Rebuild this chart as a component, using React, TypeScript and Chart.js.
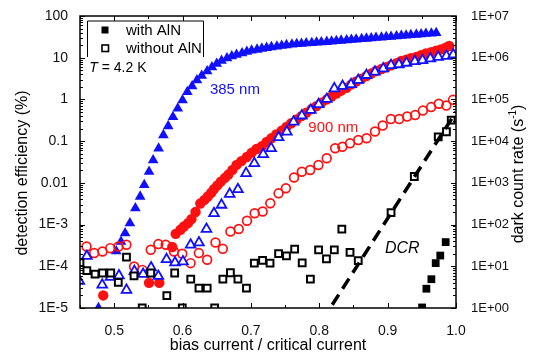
import React, { useEffect, useRef } from 'react';
import { Chart, registerables } from 'chart.js';

Chart.register(...registerables);

const FONT = '"Liberation Sans", Arial, Helvetica, sans-serif';

// ---- axis ticks / labels ----
const xTickValues = [0.5, 0.6, 0.7, 0.8, 0.9, 1.0];
const xTickLabels = ['0.5', '0.6', '0.7', '0.8', '0.9', '1.0'];
const xMinorTicks = [0.45, 0.55, 0.65, 0.75, 0.85, 0.95];
const leftTickValues = [1e-5, 1e-4, 1e-3, 1e-2, 1e-1, 1, 10, 100];
const leftTickLabels = ['1E-5', '1E-4', '1E-3', '0.01', '0.1', '1', '10', '100'];
const rightTickValues = [1, 10, 100, 1e3, 1e4, 1e5, 1e6, 1e7];
const rightTickLabels = ['1E+00', '1E+01', '1E+02', '1E+03', '1E+04', '1E+05', '1E+06', '1E+07'];

// ---- 385 nm, with AlN (filled triangles) ----
const blueFilledX = [0.477, 0.503, 0.510, 0.516, 0.523, 0.531, 0.538, 0.544, 0.551, 0.557, 0.565, 0.572, 0.579, 0.586, 0.593, 0.600, 0.607, 0.614, 0.621, 0.628, 0.636, 0.643, 0.650, 0.657, 0.665, 0.672, 0.679, 0.687, 0.694, 0.701, 0.709, 0.716, 0.723, 0.730, 0.738, 0.745, 0.752, 0.760, 0.767, 0.774, 0.781, 0.789, 0.796, 0.803, 0.811, 0.818, 0.825, 0.832, 0.840, 0.847, 0.854, 0.862, 0.869, 0.876, 0.883, 0.891, 0.898, 0.905, 0.913, 0.920, 0.927, 0.934, 0.942, 0.949, 0.956, 0.964, 0.971];
const blueFilledY = [1.0e-5, 2.3e-4, 3.9e-4, 6.2e-4, 1.08e-3, 2.47e-3, 4.7e-3, 8.9e-3, 0.0185, 0.035, 0.067, 0.14, 0.23, 0.38, 0.61, 0.96, 1.52, 2.08, 2.9, 3.7, 4.75, 5.9, 7.2, 8.5, 9.7, 10.9, 11.8, 12.8, 13.9, 14.9, 15.7, 16.6, 17.3, 18.0, 18.7, 19.5, 20.1, 20.8, 21.3, 21.7, 22.2, 22.7, 23.2, 23.6, 24.1, 24.7, 25.2, 25.8, 26.4, 27.0, 27.5, 28.2, 28.8, 29.4, 30.1, 30.8, 31.5, 32.1, 32.9, 33.6, 34.4, 35.1, 35.9, 36.7, 37.5, 38.4, 39.2];

// ---- 385 nm, without AlN (open triangles) ----
const blueOpenX = [0.449, 0.460, 0.4825, 0.4946, 0.507, 0.518, 0.5296, 0.5423, 0.554, 0.5646, 0.5766, 0.589, 0.6006, 0.6118, 0.624, 0.635, 0.646, 0.657, 0.669, 0.681, 0.693, 0.705, 0.718, 0.7296, 0.7405, 0.7526, 0.7624, 0.7745, 0.7876, 0.799, 0.811, 0.822, 0.834, 0.8465, 0.857, 0.869, 0.8815, 0.8936, 0.905, 0.9165, 0.9276, 0.9398, 0.951, 0.9625, 0.974, 0.986, 0.996];
const blueOpenY = [4.4e-5, 1.75e-4, 3.6e-5, 5.5e-5, 6.0e-5, 2.7e-5, 7.6e-5, 6.5e-5, 9.3e-5, 5.8e-5, 1.47e-4, 1.23e-4, 1.3e-4, 3.27e-4, 3.7e-4, 7.8e-4, 1.86e-3, 2.95e-3, 5.4e-3, 7.0e-3, 0.017, 0.0294, 0.0483, 0.0675, 0.123, 0.168, 0.291, 0.407, 0.555, 0.76, 1.02, 1.83, 2.08, 2.29, 2.9, 3.81, 4.57, 5.5, 6.6, 6.9, 7.5, 8.2, 8.7, 9.5, 10.4, 11.0, 11.9];

// ---- 900 nm, with AlN (filled circles) ----
const redFilledX = [0.484, 0.551, 0.566, 0.585, 0.590, 0.597, 0.602, 0.608, 0.613, 0.619, 0.626, 0.632, 0.637, 0.642, 0.646, 0.651, 0.656, 0.662, 0.667, 0.673, 0.679, 0.686, 0.694, 0.701, 0.708, 0.716, 0.723, 0.730, 0.737, 0.745, 0.752, 0.759, 0.767, 0.774, 0.781, 0.789, 0.796, 0.803, 0.811, 0.818, 0.825, 0.832, 0.840, 0.847, 0.854, 0.862, 0.869, 0.876, 0.883, 0.891, 0.898, 0.905, 0.913, 0.920, 0.927, 0.934, 0.942, 0.949, 0.956, 0.964, 0.971, 0.978, 0.985, 0.990];
const redFilledY = [2.0e-5, 4.0e-5, 4.0e-5, 2.9e-4, 6.0e-4, 7.5e-4, 9.0e-4, 1.08e-3, 1.35e-3, 2.0e-3, 3.2e-3, 3.9e-3, 4.7e-3, 5.8e-3, 7.1e-3, 8.7e-3, 0.0107, 0.0132, 0.0158, 0.0204, 0.0269, 0.0331, 0.0417, 0.0525, 0.0646, 0.0759, 0.0955, 0.117, 0.145, 0.178, 0.219, 0.269, 0.331, 0.398, 0.479, 0.589, 0.692, 0.832, 1.0, 1.17, 1.38, 1.62, 1.91, 2.29, 2.69, 3.16, 3.63, 4.17, 4.79, 5.37, 5.89, 6.61, 7.41, 8.32, 8.91, 9.77, 10.5, 11.5, 12.6, 13.5, 14.8, 15.8, 17.4, 19.1];

// ---- 900 nm, without AlN (open circles) ----
const redOpenX = [0.4596, 0.4708, 0.4829, 0.4942, 0.5063, 0.5179, 0.5292, 0.5413, 0.5535, 0.5646, 0.5754, 0.5875, 0.5996, 0.6118, 0.6239, 0.636, 0.6482, 0.6589, 0.6701, 0.6822, 0.6943, 0.7055, 0.7172, 0.7284, 0.7405, 0.7512, 0.7631, 0.7745, 0.7867, 0.7988, 0.8109, 0.8232, 0.8338, 0.845, 0.8571, 0.8692, 0.8815, 0.8928, 0.9048, 0.9169, 0.9286, 0.9402, 0.9515, 0.9636, 0.9748, 0.9859, 0.9956];
const redOpenY = [2.98e-4, 2.07e-4, 2.26e-4, 2.72e-4, 2.98e-4, 3.27e-4, 9.9e-5, 8.2e-5, 2.48e-4, 3.4e-4, 3.27e-4, 2.26e-4, 1.99e-4, 1.19e-4, 2.07e-4, 1.43e-4, 3.71e-4, 2.62e-4, 6.8e-4, 7.8e-4, 1.23e-3, 1.87e-3, 2.05e-3, 3.25e-3, 5.6e-3, 7.4e-3, 0.01346, 0.0185, 0.0204, 0.0268, 0.0388, 0.0673, 0.0735, 0.0885, 0.106, 0.117, 0.170, 0.236, 0.338, 0.338, 0.388, 0.421, 0.540, 0.655, 0.785, 0.711, 0.977];

// ---- dark count rate, without AlN (open squares, right axis) ----
const dcrOpenX = [0.450, 0.460, 0.472, 0.483, 0.495, 0.506, 0.518, 0.529, 0.541, 0.5535, 0.577, 0.5885, 0.5996, 0.612, 0.624, 0.636, 0.647, 0.659, 0.670, 0.681, 0.6935, 0.705, 0.717, 0.728, 0.7405, 0.752, 0.764, 0.775, 0.787, 0.799, 0.8105, 0.822, 0.833, 0.845, 0.857, 0.905, 0.939, 0.974, 0.986, 0.993];
const dcrOpenY = [12.3, 7.9, 6.5, 6.9, 6.9, 4.1, 16.6, 5.9, 1.0, 6.9, 1.97, 6.9, 1.0, 4.9, 3.0, 3.0, 1.0, 4.9, 7.0, 4.9, 3.0, 11.9, 13.8, 11.9, 20, 17.8, 25.8, 12.1, 4.9, 24.8, 15, 24.8, 77.6, 21.6, 13.7, 194, 1420, 12700, 16800, 32000];

// ---- dark count rate, with AlN (filled squares, right axis) ----
const dcrFilledX = [0.9504, 0.9567, 0.964, 0.9703, 0.977, 0.9849];
const dcrFilledY = [1.03, 2.9, 4.9, 11.9, 18.1, 38];

// ---- DCR guide line (dashed, right axis) ----
const dcrLineX = [0.819, 1.0];
const dcrLineY = [1.2, 5.0e4];

const BLUE = '#1010ff';
const RED = '#ff1010';

function zip(xs: number[], ys: number[]) {
  const n = Math.min(xs.length, ys.length);
  const out: { x: number; y: number }[] = [];
  for (let i = 0; i < n; i++) out.push({ x: xs[i], y: ys[i] });
  return out;
}

const decorPlugin = {
  id: 'decor',
  afterDraw(chart: any) {
    const { ctx, chartArea: a, scales } = chart;
    const xs = scales.x, ys = scales.y, y2 = scales.y2;
    ctx.save();
    ctx.strokeStyle = '#000';
    // frame
    ctx.lineWidth = 1.5;
    ctx.strokeRect(a.left, a.top, a.right - a.left, a.bottom - a.top);
    ctx.lineWidth = 1;
    ctx.beginPath();
    const xt = (v: number, len: number) => {
      const p = Math.round(xs.getPixelForValue(v)) + 0.5;
      ctx.moveTo(p, a.bottom); ctx.lineTo(p, a.bottom - len);
      ctx.moveTo(p, a.top); ctx.lineTo(p, a.top + len);
    };
    xTickValues.forEach((v) => xt(v, 5));
    xMinorTicks.forEach((v) => xt(v, 3));
    const yt = (scale: any, v: number, len: number, side: 'l' | 'r') => {
      const p = Math.round(scale.getPixelForValue(v)) + 0.5;
      if (side === 'l') { ctx.moveTo(a.left, p); ctx.lineTo(a.left + len, p); }
      else { ctx.moveTo(a.right, p); ctx.lineTo(a.right - len, p); }
    };
    for (let d = -5; d <= 2; d++) {
      const base = Math.pow(10, d);
      yt(ys, base, 5, 'l');
      if (d < 2) for (let m = 2; m <= 9; m++) yt(ys, m * base, 3, 'l');
    }
    for (let d = 0; d <= 7; d++) {
      const base = Math.pow(10, d);
      yt(y2, base, 5, 'r');
      if (d < 7) for (let m = 2; m <= 9; m++) yt(y2, m * base, 3, 'r');
    }
    ctx.stroke();

    // legend box (open at the bottom)
    const bl = a.left + 7.5, bt = a.top + 5, br = a.left + 123.5, bb = a.top + 41;
    ctx.lineWidth = 1;
    ctx.beginPath();
    ctx.moveTo(bl, bb); ctx.lineTo(bl, bt); ctx.lineTo(br, bt); ctx.lineTo(br, bb);
    ctx.stroke();
    ctx.fillStyle = '#000';
    ctx.fillRect(a.left + 21.5, a.top + 10.5, 7, 7);
    ctx.lineWidth = 1.6;
    ctx.strokeRect(a.left + 22, a.top + 29, 6.5, 6.5);
    ctx.font = `15px ${FONT}`;
    ctx.textBaseline = 'middle';
    ctx.textAlign = 'left';
    ctx.fillText('with AlN', a.left + 46, a.top + 14.5);
    ctx.fillText('without AlN', a.left + 46, a.top + 32.5);

    // annotations
    const tx = xs.getPixelForValue(0.4636), ty = ys.getPixelForValue(5.6);
    ctx.font = `italic 14px ${FONT}`;
    ctx.fillText('T', tx, ty);
    const tw = ctx.measureText('T').width;
    ctx.font = `14px ${FONT}`;
    ctx.fillText(' = 4.2 K', tx + tw, ty);

    ctx.font = `15px ${FONT}`;
    ctx.fillStyle = BLUE;
    ctx.fillText('385 nm', xs.getPixelForValue(0.640), ys.getPixelForValue(1.67));
    ctx.fillStyle = RED;
    ctx.fillText('900 nm', xs.getPixelForValue(0.784), ys.getPixelForValue(0.211));
    ctx.fillStyle = '#000';
    ctx.font = `italic 16px ${FONT}`;
    ctx.fillText('DCR', xs.getPixelForValue(0.896), ys.getPixelForValue(2.6e-4));

    // y axis titles (rotated, reading bottom to top)
    ctx.font = `16px ${FONT}`;
    ctx.fillStyle = '#000';
    ctx.save();
    ctx.translate(23, 173);
    ctx.rotate(-Math.PI / 2);
    ctx.textAlign = 'center';
    ctx.fillText('detection efficiency (%)', 0, 0);
    ctx.restore();

    ctx.save();
    ctx.translate(519, 174);
    ctx.rotate(-Math.PI / 2);
    ctx.textAlign = 'left';
    const p1 = 'dark count rate (s';
    const sup = '-1';
    const p3 = ')';
    ctx.font = `16px ${FONT}`;
    const w1 = ctx.measureText(p1).width;
    const w3 = ctx.measureText(p3).width;
    ctx.font = `10px ${FONT}`;
    const w2 = ctx.measureText(sup).width;
    const total = w1 + w2 + w3;
    let cx = -total / 2;
    ctx.font = `16px ${FONT}`;
    ctx.fillText(p1, cx, 0);
    cx += w1;
    ctx.font = `10px ${FONT}`;
    ctx.fillText(sup, cx, -6);
    cx += w2;
    ctx.font = `16px ${FONT}`;
    ctx.fillText(p3, cx, 0);
    ctx.restore();

    ctx.restore();
  },
};

export default function App() {
  const ref = useRef<HTMLCanvasElement | null>(null);
  useEffect(() => {
    if (!ref.current) return;
    const chart = new Chart(ref.current, {
      type: 'scatter',
      data: {
        datasets: [
          {
            label: 'DCR line',
            data: zip(dcrLineX, dcrLineY),
            yAxisID: 'y2',
            showLine: true,
            borderColor: '#000',
            borderWidth: 3.5,
            borderDash: [12, 7],
            pointRadius: 0,
            order: 0,
          },
          {
            label: 'DCR with AlN',
            data: zip(dcrFilledX, dcrFilledY),
            yAxisID: 'y2',
            pointStyle: 'rect',
            pointRadius: 5.5,
            backgroundColor: '#000',
            borderColor: '#000',
            borderWidth: 0,
            order: 1,
          },
          {
            label: 'DCR without AlN',
            data: zip(dcrOpenX, dcrOpenY),
            yAxisID: 'y2',
            pointStyle: 'rect',
            pointRadius: 4.8,
            backgroundColor: '#fff',
            borderColor: '#000',
            borderWidth: 2,
            order: 2,
          },
          {
            label: '385 nm without AlN',
            data: zip(blueOpenX, blueOpenY),
            pointStyle: 'triangle',
            pointRadius: 5.6,
            backgroundColor: 'rgba(255,255,255,1)',
            borderColor: BLUE,
            borderWidth: 1.8,
            order: 3,
          },
          {
            label: '900 nm without AlN',
            data: zip(redOpenX, redOpenY),
            pointStyle: 'circle',
            pointRadius: 4.4,
            backgroundColor: 'rgba(255,255,255,0)',
            borderColor: RED,
            borderWidth: 1.7,
            order: 4,
          },
          {
            label: '900 nm with AlN',
            data: zip(redFilledX, redFilledY),
            pointStyle: 'circle',
            pointRadius: 5.2,
            backgroundColor: RED,
            borderColor: RED,
            borderWidth: 0,
            order: 5,
          },
          {
            label: '385 nm with AlN',
            data: zip(blueFilledX, blueFilledY),
            pointStyle: 'triangle',
            pointRadius: 6.2,
            backgroundColor: BLUE,
            borderColor: BLUE,
            borderWidth: 0,
            order: 6,
          },
        ],
      },
      options: {
        responsive: false,
        animation: false,
        devicePixelRatio: 1,
        layout: { padding: { top: 16, left: 0, right: 0, bottom: 0 }, autoPadding: false },
        plugins: { legend: { display: false }, tooltip: { enabled: false } },
        scales: {
          x: {
            type: 'linear',
            min: 0.45,
            max: 1.0,
            grid: { display: false },
            border: { display: false },
            afterBuildTicks: (s: any) => { s.ticks = xTickValues.map((v) => ({ value: v })); },
            afterFit: (s: any) => { s.height = 48; },
            ticks: {
              autoSkip: false,
              maxRotation: 0,
              padding: 7,
              color: '#111',
              font: { family: FONT, size: 14 },
              callback: (_v: any, i: number) => xTickLabels[i],
            },
            title: {
              display: true,
              text: 'bias current / critical current',
              color: '#000',
              font: { family: FONT, size: 16 },
              padding: { top: 0, bottom: 1 },
            },
          },
          y: {
            type: 'logarithmic',
            position: 'left',
            min: 1e-5,
            max: 100,
            grid: { display: false },
            border: { display: false },
            afterBuildTicks: (s: any) => { s.ticks = leftTickValues.map((v) => ({ value: v })); },
            afterFit: (s: any) => { s.width = 80; },
            ticks: {
              autoSkip: false,
              padding: 4,
              color: '#111',
              font: { family: FONT, size: 14 },
              callback: (_v: any, i: number) => leftTickLabels[i],
            },
          },
          y2: {
            type: 'logarithmic',
            position: 'right',
            min: 1,
            max: 1e7,
            grid: { display: false },
            border: { display: false },
            afterBuildTicks: (s: any) => { s.ticks = rightTickValues.map((v) => ({ value: v })); },
            afterFit: (s: any) => { s.width = 82; },
            ticks: {
              autoSkip: false,
              padding: 7,
              color: '#111',
              font: { family: FONT, size: 13 },
              callback: (_v: any, i: number) => rightTickLabels[i],
            },
          },
        },
      },
      plugins: [decorPlugin],
    } as any);
    return () => chart.destroy();
  }, []);

  return (
    <div style={{ position: 'fixed', left: 0, top: 0, width: 538, height: 356, background: '#fff' }}>
      <canvas ref={ref} width={538} height={356} style={{ display: 'block' }} />
    </div>
  );
}
